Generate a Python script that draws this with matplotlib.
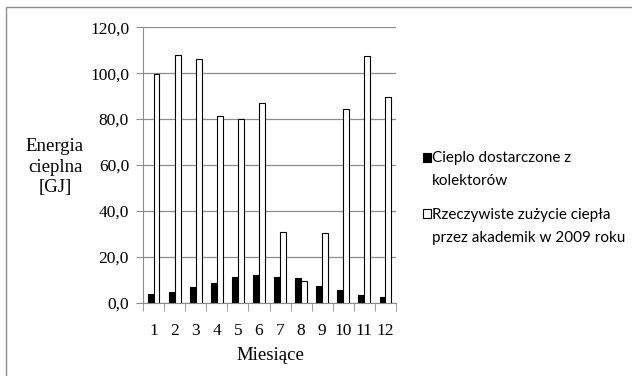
import numpy as np
import matplotlib
matplotlib.use("Agg")
import matplotlib.pyplot as plt
from matplotlib.patches import Rectangle

months = [str(m) for m in range(1, 13)]
kolektory = [3.5, 4.4, 6.9, 8.7, 11.2, 12.1, 11.2, 10.8, 7.0, 5.4, 3.1, 2.6]
zuzycie = [99.5, 108.0, 106.0, 81.4, 79.8, 87.2, 30.7, 9.3, 30.4, 84.3, 107.4, 89.7]
yticks = [0, 20, 40, 60, 80, 100, 120]
labels = ["Cieplo dostarczone z\nkolektorów",
          "Rzeczywiste zużycie ciepła\nprzez akademik w 2009 roku"]

serif = ["Liberation Serif", "DejaVu Serif"]
legfont = ["Lato", "DejaVu Sans"]

fig = plt.figure(figsize=(6.32, 3.76), dpi=100)
fig.patches.append(Rectangle((6 / 632, -0.01), 1.0, 1 - 7 / 376 + 0.01,
                             transform=fig.transFigure, fill=False,
                             edgecolor="#8c8c8c", linewidth=1.0))

ax = fig.add_axes([143 / 632, 1 - 302.5 / 376, 253 / 632, 275.2 / 376])
x = np.arange(1, 13)
w = 0.28
ax.bar(x - 0.14, kolektory, w, color="black", edgecolor="black", linewidth=0.8, zorder=3)
ax.bar(x + 0.14, zuzycie, w, color="white", edgecolor="black", linewidth=0.8, zorder=3)

ax.set_xlim(0.5, 12.5)
ax.set_ylim(0, 120)
ax.set_yticks(yticks)
ax.set_yticklabels([f"{v:.1f}".replace(".", ",") for v in yticks],
                   fontfamily=serif, fontsize=12.5)
ax.set_xticks(x)
ax.set_xticklabels(months, fontfamily=serif, fontsize=12.5)
ax.set_xticks(np.arange(0.5, 13, 1), minor=True)
ax.tick_params(axis="x", which="major", length=0, pad=15)
ax.tick_params(axis="x", which="minor", length=6, color="#8c8c8c")
ax.tick_params(axis="y", length=5, color="#8c8c8c", pad=5)
ax.grid(axis="y", color="#8c8c8c", linewidth=0.9, zorder=0)
for s in ["top", "right"]:
    ax.spines[s].set_visible(False)
ax.spines["left"].set_color("#8c8c8c")
ax.spines["bottom"].set_color("#8c8c8c")

fig.text(55 / 632, 1 - 167 / 376, "Energia\ncieplna\n[GJ]", ha="center", va="center",
         fontfamily=serif, fontsize=13.5, linespacing=1.25)
fig.text(270 / 632, 1 - 355 / 376, "Miesiące", ha="center", va="center",
         fontfamily=serif, fontsize=13.5)

# legend drawn by hand so the marker sits on the first line of each label
for i, (lab, fc) in enumerate(zip(labels, ["black", "white"])):
    y0 = 157 + i * 57
    fig.patches.append(Rectangle((422.5 / 632, 1 - (y0 + 4.5) / 376), 8 / 632, 9 / 376,
                                 transform=fig.transFigure, facecolor=fc,
                                 edgecolor="black", linewidth=0.8))
    fig.text(432 / 632, 1 - (y0 - 6) / 376, lab, ha="left", va="top",
             fontfamily=legfont, fontsize=11, linespacing=1.8)

fig.savefig("out.png", dpi=100)
